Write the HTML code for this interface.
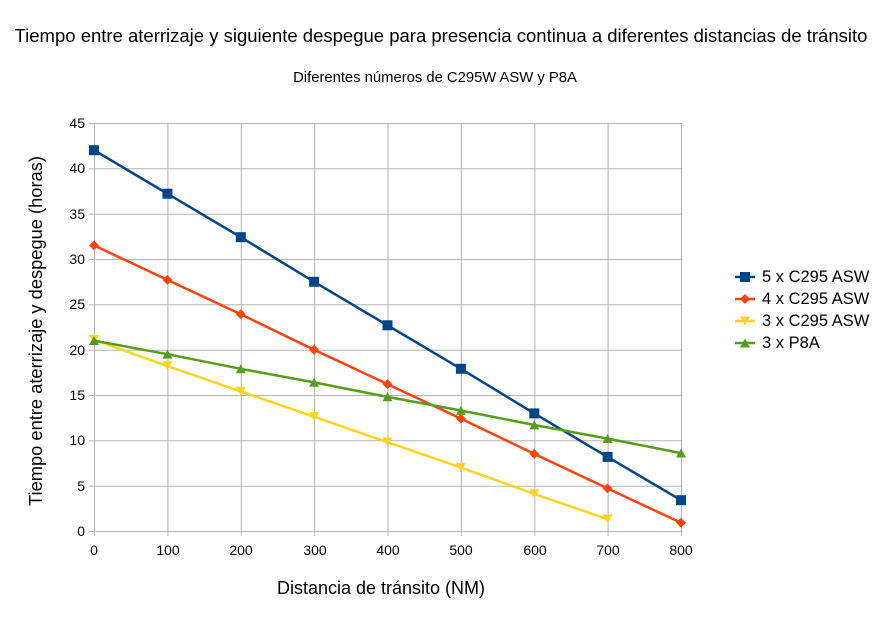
<!DOCTYPE html>
<html><head><meta charset="utf-8"><style>body{margin:0;background:#fff}svg{display:block}text{font-family:"Liberation Sans",sans-serif;fill:#000}</style></head>
<body>
<svg width="886" height="621" xmlns="http://www.w3.org/2000/svg">
<rect width="886" height="621" fill="#fff"/>
<text x="441" y="42" font-size="18.5" text-anchor="middle">Tiempo entre aterrizaje y siguiente despegue para presencia continua a diferentes distancias de tránsito</text>
<text x="435" y="82" font-size="14.8" text-anchor="middle">Diferentes números de C295W ASW y P8A</text>
<g stroke="#b3b3b3" stroke-width="1">
<line x1="94" y1="123.5" x2="681" y2="123.5"/><line x1="94" y1="168.8" x2="681" y2="168.8"/><line x1="94" y1="214.2" x2="681" y2="214.2"/><line x1="94" y1="259.5" x2="681" y2="259.5"/><line x1="94" y1="304.8" x2="681" y2="304.8"/><line x1="94" y1="350.2" x2="681" y2="350.2"/><line x1="94" y1="395.5" x2="681" y2="395.5"/><line x1="94" y1="440.8" x2="681" y2="440.8"/><line x1="94" y1="486.2" x2="681" y2="486.2"/><line x1="94" y1="531.5" x2="681" y2="531.5"/>
<line x1="94.5" y1="123" x2="94.5" y2="536"/><line x1="167.9" y1="123" x2="167.9" y2="536"/><line x1="241.3" y1="123" x2="241.3" y2="536"/><line x1="314.6" y1="123" x2="314.6" y2="536"/><line x1="388" y1="123" x2="388" y2="536"/><line x1="461.4" y1="123" x2="461.4" y2="536"/><line x1="534.8" y1="123" x2="534.8" y2="536"/><line x1="608.1" y1="123" x2="608.1" y2="536"/><line x1="681.5" y1="123" x2="681.5" y2="536"/>
<line x1="89" y1="123.5" x2="94" y2="123.5"/><line x1="89" y1="168.8" x2="94" y2="168.8"/><line x1="89" y1="214.2" x2="94" y2="214.2"/><line x1="89" y1="259.5" x2="94" y2="259.5"/><line x1="89" y1="304.8" x2="94" y2="304.8"/><line x1="89" y1="350.2" x2="94" y2="350.2"/><line x1="89" y1="395.5" x2="94" y2="395.5"/><line x1="89" y1="440.8" x2="94" y2="440.8"/><line x1="89" y1="486.2" x2="94" y2="486.2"/><line x1="89" y1="531.5" x2="94" y2="531.5"/>
</g>
<g font-size="14" text-anchor="end">
<text x="85" y="128">45</text><text x="85" y="173">40</text><text x="85" y="219">35</text><text x="85" y="264">30</text><text x="85" y="309">25</text><text x="85" y="355">20</text><text x="85" y="400">15</text><text x="85" y="445">10</text><text x="85" y="491">5</text><text x="85" y="536">0</text>
</g>
<g font-size="14" text-anchor="middle">
<text x="94" y="555">0</text><text x="168" y="555">100</text><text x="241" y="555">200</text><text x="315" y="555">300</text><text x="388" y="555">400</text><text x="461" y="555">500</text><text x="535" y="555">600</text><text x="608" y="555">700</text><text x="681" y="555">800</text>
</g>
<text x="381" y="594" font-size="18" text-anchor="middle">Distancia de tránsito (NM)</text>
<text transform="translate(42,331) rotate(-90)" font-size="18.3" text-anchor="middle">Tiempo entre aterrizaje y despegue (horas)</text>
<polyline fill="none" stroke="#004586" stroke-width="2.5" points="94,150.2 167.4,193.7 240.8,237.2 314.1,281.8 387.5,325.3 460.9,368.8 534.3,413.4 607.6,456.9 681,500.2"/>
<g fill="#004586"><rect x="89" y="145.2" width="10" height="10"/><rect x="162.4" y="188.7" width="10" height="10"/><rect x="235.8" y="232.2" width="10" height="10"/><rect x="309.1" y="276.8" width="10" height="10"/><rect x="382.5" y="320.3" width="10" height="10"/><rect x="455.9" y="363.8" width="10" height="10"/><rect x="529.3" y="408.4" width="10" height="10"/><rect x="602.6" y="451.9" width="10" height="10"/><rect x="676" y="495.2" width="10" height="10"/></g>
<polyline fill="none" stroke="#ff420e" stroke-width="2.5" points="94,245.4 167.4,279.9 240.8,314.3 314.1,349.7 387.5,384.1 460.9,418.6 534.3,453.9 607.6,488.4 681,522.8"/>
<g fill="#ff420e">
<polygon points="94,240.4 99,245.4 94,250.4 89,245.4"/><polygon points="167.4,274.9 172.4,279.9 167.4,284.9 162.4,279.9"/><polygon points="240.8,309.3 245.8,314.3 240.8,319.3 235.8,314.3"/><polygon points="314.1,344.7 319.1,349.7 314.1,354.7 309.1,349.7"/><polygon points="387.5,379.1 392.5,384.1 387.5,389.1 382.5,384.1"/><polygon points="460.9,413.6 465.9,418.6 460.9,423.6 455.9,418.6"/><polygon points="534.3,448.9 539.3,453.9 534.3,458.9 529.3,453.9"/><polygon points="607.6,483.4 612.6,488.4 607.6,493.4 602.6,488.4"/><polygon points="681,517.8 686,522.8 681,527.8 676,522.8"/></g>
<polyline fill="none" stroke="#ffd320" stroke-width="2.5" points="94,339.7 167.4,366.1 240.8,391.4 314.1,416.8 387.5,442.2 460.9,467.6 534.3,493.9 607.6,519.2"/>
<g fill="#ffd320">
<polygon points="89,335 99,335 94,344"/><polygon points="162.4,361.4 172.4,361.4 167.4,370.4"/><polygon points="235.8,386.7 245.8,386.7 240.8,395.7"/><polygon points="309.1,412.1 319.1,412.1 314.1,421.1"/><polygon points="382.5,437.5 392.5,437.5 387.5,446.5"/><polygon points="455.9,462.9 465.9,462.9 460.9,471.9"/><polygon points="529.3,489.2 539.3,489.2 534.3,498.2"/><polygon points="602.6,514.5 612.6,514.5 607.6,523.5"/></g>
<polyline fill="none" stroke="#579d1c" stroke-width="2.5" points="94,340.6 167.4,354.2 240.8,368.8 314.1,382.4 387.5,396.9 460.9,410.5 534.3,425 607.6,438.6 681,453.1"/>
<g fill="#579d1c">
<polygon points="89,345 99,345 94,336"/><polygon points="162.4,358.6 172.4,358.6 167.4,349.6"/><polygon points="235.8,373.2 245.8,373.2 240.8,364.2"/><polygon points="309.1,386.8 319.1,386.8 314.1,377.8"/><polygon points="382.5,401.3 392.5,401.3 387.5,392.3"/><polygon points="455.9,414.9 465.9,414.9 460.9,405.9"/><polygon points="529.3,429.4 539.3,429.4 534.3,420.4"/><polygon points="602.6,443 612.6,443 607.6,434"/><polygon points="676,457.5 686,457.5 681,448.5"/></g>
<line x1="735" y1="277" x2="755" y2="277" stroke="#004586" stroke-width="2.5"/><rect x="740" y="272" width="10" height="10" fill="#004586"/>
<line x1="735" y1="299" x2="755" y2="299" stroke="#ff420e" stroke-width="2.5"/><polygon points="745,294 750,299 745,304 740,299" fill="#ff420e"/>
<line x1="735" y1="321" x2="755" y2="321" stroke="#ffd320" stroke-width="2.5"/><polygon points="740,316.5 750,316.5 745,325.5" fill="#ffd320"/>
<line x1="735" y1="343" x2="755" y2="343" stroke="#579d1c" stroke-width="2.5"/><polygon points="740,347.5 750,347.5 745,338.5" fill="#579d1c"/>
<g font-size="16.5"><text x="762" y="282">5 x C295 ASW</text><text x="762" y="304">4 x C295 ASW</text><text x="762" y="326">3 x C295 ASW</text><text x="762" y="348">3 x P8A</text></g>
</svg>
</body></html>
